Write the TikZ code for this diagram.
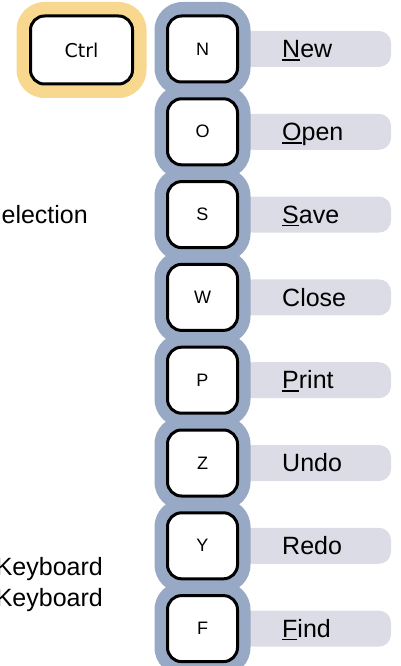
\documentclass[tikz,border=0pt]{standalone}
\usepackage{fontspec}
\setmainfont{Liberation Sans}
\newfontfamily\ctrlfont{DejaVu Sans}
\usetikzlibrary{positioning}

\definecolor{haloblue}{RGB}{152,169,198}
\definecolor{haloyellow}{RGB}{248,216,142}
\definecolor{bargrey}{RGB}{219,220,229}

% underlined access key
\newcommand{\hotkey}[1]{\setbox0\hbox{#1}\rlap{\rule[-3pt]{\wd0}{1.8pt}}#1}

\begin{document}
\begin{tikzpicture}[x=1pt, y=-1pt,
  keycap/.style={draw=black, line width=3pt, fill=white, rounded corners=14pt, minimum width=70pt, minimum height=66pt, inner sep=0pt, font=\fontsize{18}{21}\selectfont},
  halo/.style={fill=haloblue, rounded corners=28pt, minimum width=96pt, minimum height=94pt, inner sep=0pt},
  labelbar/.style={fill=bargrey, rounded corners=12pt, minimum width=150pt, minimum height=36pt, inner sep=0pt},
  cmdlabel/.style={anchor=west, inner sep=0pt, text height=17.5pt, text depth=0pt, font=\fontsize{25}{29}\selectfont},
  sidetext/.style={anchor=east, inner sep=0pt, text height=17.5pt, text depth=0pt, font=\fontsize{25}{29}\selectfont}]

\useasboundingbox (0,0) rectangle (401,666);

% modifier key
\node[halo, fill=haloyellow, minimum width=130pt, minimum height=96pt] (ctrlhalo) at (81.5,50) {};
\node[keycap, minimum width=102pt, minimum height=68pt, font=\ctrlfont\fontsize{19}{22}\selectfont] (ctrl) at (81.5,50) {Ctrl};

% bars and halos first
\foreach \k [count=\i from 0] in {N,O,S,W,P,Z,Y,F}
{
  \node[labelbar] (bar\k) at (316,{49+82.8*\i}) {};
  \node[halo] (halo\k) at (202.5,{49+82.8*\i}) {};
}

% keys and commands
\foreach \k/\cmd [count=\i from 0] in {N/{\hotkey{N}ew}, O/{\hotkey{O}pen}, S/{\hotkey{S}ave}, W/{Close}, P/{\hotkey{P}rint}, Z/{Undo}, Y/{Redo}, F/{\hotkey{F}ind}}
{
  \node[keycap] (key\k) at (202.5,{49+82.8*\i}) {\k};
  \node[cmdlabel] (cmd\k) at (282,{49+82.8*\i}) {\cmd};
}

% cut-off texts on the left
\node[sidetext] (selection) at (88,215) {election};
\node[sidetext] (kbdA) at (103,567) {Keyboard};
\node[sidetext] (kbdB) at (103,598) {Keyboard};

\end{tikzpicture}
\end{document}
